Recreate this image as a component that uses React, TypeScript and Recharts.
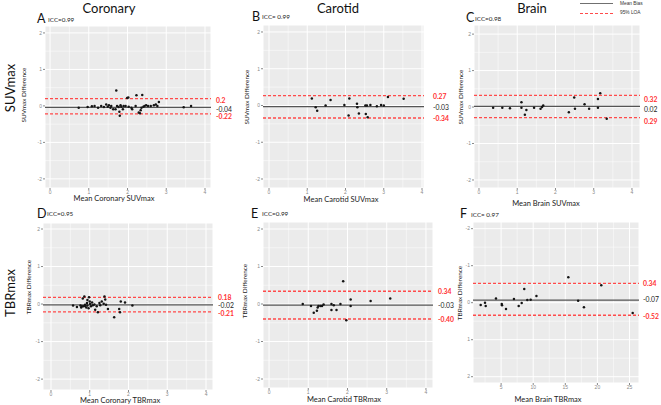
import React from 'react';
import { ScatterChart, Scatter, XAxis, YAxis, CartesianGrid, ReferenceLine } from 'recharts';

// ---------- data ----------
const coronarySuvMean = [0.74,0.97,1.08,1.15,1.24,1.32,1.39,1.45,1.49,1.52,1.56,1.58,1.63,1.69,1.71,1.73,1.77,1.79,1.8,1.82,1.84,1.88,1.9,1.95,1.99,2.02,2.03,2.1,2.12,2.21,2.23,2.29,2.32,2.34,2.36,2.38,2.41,2.44,2.48,2.53,2.6,2.68,2.73,2.77,2.81,3.45,3.64];
const coronarySuvDiff = [-0.05,-0.03,-0.01,0,-0.05,0,-0.03,0.04,-0.02,0.02,-0.05,0,-0.09,-0.09,0.42,0,-0.03,-0.16,-0.27,0.02,-0.02,-0.09,0,0,0.22,0.23,-0.02,-0.05,-0.09,0,0.29,-0.18,-0.2,-0.12,-0.05,0.3,-0.02,0,0.02,0,0,0.02,0.04,0,0.11,-0.04,0];

const carotidSuvMean = [1.12,1.22,1.26,1.48,1.61,1.97,2.08,2.1,2.3,2.31,2.35,2.52,2.53,2.56,2.58,2.65,2.82,2.93,3.0,3.11,3.52];
const carotidSuvDiff = [0.19,-0.05,-0.14,0,0.15,0.01,-0.27,0.19,0.05,-0.05,-0.22,0,-0.23,0,-0.32,0.01,-0.02,0.01,0,0.23,0.18];

const brainSuvMean = [0.37,0.61,0.81,1.11,1.11,1.2,1.24,1.44,1.61,1.65,1.68,2.35,2.49,2.51,2.76,2.88,3.11,3.11,3.17,3.34];
const brainSuvDiff = [-0.02,-0.02,-0.03,0.13,-0.02,-0.21,-0.08,-0.02,-0.05,0,0.04,-0.14,0.26,-0.05,0.08,-0.05,0.22,-0.02,0.38,-0.32];

const coronaryTbrMean = [0.57,0.67,0.76,0.78,0.82,0.84,0.86,0.88,0.91,0.93,0.94,0.97,0.98,1.0,1.01,1.03,1.06,1.08,1.12,1.14,1.18,1.21,1.25,1.27,1.31,1.36,1.38,1.4,1.42,1.47,1.63,1.76,1.78,1.8,1.91,2.1,0.8,0.88,0.94];
const coronaryTbrDiff = [-0.04,-0.08,-0.04,-0.09,0.15,-0.06,0.2,-0.02,-0.09,0.03,-0.04,-0.11,0.18,0.07,0,-0.06,0.04,-0.03,-0.01,-0.15,-0.06,-0.22,0.03,-0.03,0.07,0.01,0.2,0.12,-0.02,-0.13,-0.35,-0.13,-0.22,0.07,0.04,-0.04,-0.06,-0.05,0.11];

const carotidTbrMean = [0.86,1.07,1.14,1.22,1.24,1.26,1.31,1.35,1.39,1.59,1.59,1.65,1.72,1.82,1.89,1.97,2.08,2.08,2.59,3.09];
const carotidTbrDiff = [0,-0.05,-0.23,-0.18,-0.09,-0.05,-0.05,-0.05,-0.01,0,-0.16,-0.03,-0.16,0,0.61,-0.43,-0.05,0.12,0.08,0.15];

const brainTbrMean = [1.82,2.49,2.6,4.2,5.1,5.14,5.76,7.0,7.74,8.2,8.6,9.08,9.6,10.5,15.47,17.0,17.9,20.6,25.5];
const brainTbrDiff = [0.06,0,0.09,-0.11,0.035,0.07,0.17,-0.1,0.09,0.01,-0.37,-0.07,-0.08,-0.18,-0.69,-0.05,0.12,-0.47,0.28];

// bias, upper LOA line, lower LOA line (values) and their printed labels
const biasValues = [-0.04, -0.03, 0.02, -0.02, -0.03, -0.07];
const loaUpperValues = [0.2, 0.27, 0.32, 0.18, 0.34, -0.52];
const loaLowerValues = [-0.22, -0.34, -0.29, -0.21, -0.40, 0.34];
const biasLabels = ['-0.04', '-0.03', '0.02', '-0.02', '-0.03', '-0.07'];
const loaUpperLabels = ['0.2', '0.27', '0.32', '0.18', '0.34', '0.34'];
const loaLowerLabels = ['-0.22', '-0.34', '0.29', '-0.21', '-0.40', '-0.52'];

const panelLetters = ['A', 'B', 'C', 'D', 'E', 'F'];
const iccLabels = ['ICC=0.99', 'ICC= 0.99', 'ICC=0.98', 'ICC=0.95', 'ICC=0.99', 'ICC= 0.97'];
const xTitles = ['Mean Coronary SUVmax', 'Mean Carotid SUVmax', 'Mean Brain SUVmax', 'Mean Coronary TBRmax', 'Mean Carotid TBRmax', 'Mean Brain TBRmax'];
const yTitles = ['SUVmax Difference', 'SUVmax Difference', 'SUVmax Difference', 'TBRmax  Difference', 'TBRmax  Difference', 'TBRmax  Difference'];
const columnTitles = ['Coronary', 'Carotid', 'Brain'];
const rowTitles = ['SUVmax', 'TBRmax'];
const legendLabels = ['Mean  Bias', '95% LOA'];

const yTicks = [-2, -1, 0, 1, 2];
const yMinor = [-1.5, -0.5, 0.5, 1.5];
const xTicksSuv = [0, 1, 2, 3, 4];
const xMinorSuv = [0.5, 1.5, 2.5, 3.5];
const xTicksBrainTbr = [5, 10, 15, 20, 25];
const xMinorBrainTbr = [2.5, 7.5, 12.5, 17.5, 22.5];

// ---------- layout ----------
type Rect = { x: number; y: number; w: number; h: number };
const plots: Rect[] = [
  { x: 45, y: 26, w: 166, h: 162 },
  { x: 263, y: 25, w: 161, h: 163 },
  { x: 474, y: 25, w: 166, h: 163 },
  { x: 43, y: 223, w: 170, h: 167 },
  { x: 263, y: 222, w: 170, h: 166 },
  { x: 473, y: 222, w: 166, h: 161 },
];
const xDomains: [number, number][] = [[-0.13, 4.155], [-0.157, 4.052], [-0.13, 4.21], [-0.206, 4.18], [-0.154, 4.18], [0.62, 26.48]];
const yDomains: [number, number][] = [[-2.25, 2.19], [-2.245, 2.19], [-2.22, 2.25], [-2.29, 2.16], [-2.24, 2.187], [-2.18, 2.17]];
const labelDx = [5, 9, 4, 5, 5, 4];
// label vertical nudges: [upper, bias, lower]
const labelDy = [[1, 1.5, 2.5], [0, 0.5, 0], [3.5, 3, 3], [0, 0.5, 1], [0, 0, 0], [-0.5, -1, 0.5]];

const seriesMeans = [coronarySuvMean, carotidSuvMean, brainSuvMean, coronaryTbrMean, carotidTbrMean, brainTbrMean];
const seriesDiffs = [coronarySuvDiff, carotidSuvDiff, brainSuvDiff, coronaryTbrDiff, carotidTbrDiff, brainTbrDiff];

const YW = 20;
const XH = 12;
const MR = 36;
const RED = '#ff4a4a';
const LABEL_RED = '#ff3030';
const TICK = '#8a8a8a';

const Dot = (p: any) => <circle cx={p.cx} cy={p.cy} r={1.25} fill="#141414" />;

const makeLabel = (text: string, color: string, bold: boolean, dx: number, dy: number) => (p: any) => {
  const vb = p.viewBox || {};
  const x = (vb.x || 0) + (vb.width || 0) + dx;
  const y = (vb.y || 0) + dy;
  return (
    <text x={x} y={y} dominantBaseline="central" textAnchor="start" fontSize={6.8}
      fontFamily="Lato, 'Liberation Sans', sans-serif" fontWeight={bold ? 700 : 400} fill={color}>
      {text}
    </text>
  );
};

function Panel({ i }: { i: number }) {
  const plot = plots[i];
  const data = seriesMeans[i].map((m, k) => ({ x: m, y: seriesDiffs[i][k] }));
  const isF = i === 5;
  return (
    <div style={{ position: 'absolute', left: plot.x - YW, top: plot.y }}>
      <ScatterChart id={`bland-altman-${i}`} width={plot.w + YW + MR} height={plot.h + XH} margin={{ top: 0, right: MR, bottom: 0, left: 0 }}>
        <CartesianGrid fill="#EBEBEB" fillOpacity={1} stroke="#FFFFFF" strokeWidth={0.5}
          horizontalValues={yMinor} verticalValues={isF ? xMinorBrainTbr : xMinorSuv} />
        <CartesianGrid stroke="#FFFFFF" strokeWidth={1} />
        <XAxis type="number" dataKey="x" domain={xDomains[i]} ticks={isF ? xTicksBrainTbr : xTicksSuv}
          allowDataOverflow interval={0} height={XH} tickSize={2} tickMargin={0} axisLine={false}
          tickLine={{ stroke: TICK }} tick={{ fontSize: 5, fill: TICK }} />
        <YAxis type="number" dataKey="y" domain={yDomains[i]} ticks={yTicks} reversed={isF}
          allowDataOverflow interval={0} width={YW} tickSize={2} tickMargin={1} axisLine={false}
          tickLine={{ stroke: TICK }} tick={{ fontSize: 5, fill: TICK }} />
        <ReferenceLine key="up" y={loaUpperValues[i]} stroke={RED} strokeWidth={1.3} strokeDasharray="3 2"
          label={makeLabel(loaUpperLabels[i], LABEL_RED, true, labelDx[i], labelDy[i][0])} />
        <ReferenceLine key="lo" y={loaLowerValues[i]} stroke={RED} strokeWidth={1.3} strokeDasharray="3 2"
          label={makeLabel(loaLowerLabels[i], LABEL_RED, true, labelDx[i], labelDy[i][2])} />
        <ReferenceLine key="bias" y={biasValues[i]} stroke="#555555" strokeWidth={1.3}
          label={makeLabel(biasLabels[i], '#222222', false, labelDx[i], labelDy[i][1])} />
        <Scatter data={data} isAnimationActive={false} shape={Dot} />
      </ScatterChart>
    </div>
  );
}

const abs = (left: number, top: number, extra: React.CSSProperties = {}): React.CSSProperties => ({
  position: 'absolute', left, top, whiteSpace: 'nowrap', lineHeight: 1, ...extra,
});
const centered = (cx: number, cy: number, extra: React.CSSProperties = {}): React.CSSProperties =>
  abs(cx, cy, { transform: 'translate(-50%, -50%)', ...extra });
const rotated = (cx: number, cy: number, extra: React.CSSProperties = {}): React.CSSProperties =>
  abs(cx, cy, { transform: 'translate(-50%, -50%) rotate(-90deg)', ...extra });

const colTitlePos = [[109, 8], [338, 8], [532, 8]];
const rowTitlePos = [[10, 88], [10, 293]];
const yTitlePos = [[24, 95], [247, 97], [461, 97], [29, 287], [245, 291], [460, 293]];
const xTitlePos = [[114, 198.5], [341, 200], [546, 204], [120, 400.5], [344, 400], [548, 400]];
const letterPos = [[37, 19], [252, 17], [466, 18], [37, 214], [251, 214], [460, 214]];
const iccPos = [[48, 20], [262, 17], [475, 19], [47, 214], [262, 214], [471, 215]];

export default function App() {
  const lato = "Lato, 'Open Sans', sans-serif";
  const arial = "'Liberation Sans', Arial, sans-serif";
  return (
    <div style={{ position: 'absolute', left: 0, top: 0, width: 661, height: 405, background: '#ffffff', overflow: 'hidden', fontFamily: arial }}>
      {[0, 1, 2, 3, 4, 5].map((i) => <Panel key={i} i={i} />)}

      {columnTitles.map((t, k) => (
        <div key={t} style={centered(colTitlePos[k][0], colTitlePos[k][1], { fontFamily: lato, fontSize: 13, color: '#111' })}>{t}</div>
      ))}
      {rowTitles.map((t, k) => (
        <div key={t} style={rotated(rowTitlePos[k][0], rowTitlePos[k][1], { fontFamily: lato, fontSize: 13, color: '#111' })}>{t}</div>
      ))}
      {yTitles.map((t, k) => (
        <div key={k} style={rotated(yTitlePos[k][0], yTitlePos[k][1], { fontFamily: lato, fontSize: 6.4, color: '#222' })}>{t}</div>
      ))}
      {xTitles.map((t, k) => (
        <div key={k} style={centered(xTitlePos[k][0], xTitlePos[k][1], { fontFamily: lato, fontSize: 7.5, color: '#222' })}>{t}</div>
      ))}
      {panelLetters.map((t, k) => (
        <div key={t} style={abs(letterPos[k][0], letterPos[k][1], { fontFamily: lato, fontSize: 12.5, color: '#111', transform: 'translateY(-50%)' })}>{t}</div>
      ))}
      {iccLabels.map((t, k) => (
        <div key={k} style={abs(iccPos[k][0], iccPos[k][1], { fontFamily: lato, fontSize: 6.3, color: '#222', transform: 'translateY(-50%)' })}>{t}</div>
      ))}

      {/* legend */}
      <div style={abs(580, 3, { width: 33, borderTop: '1px solid #707070' })} />
      <div style={abs(620, 4, { fontSize: 4.8, color: '#333', transform: 'translateY(-50%)' })}>{legendLabels[0]}</div>
      <div style={abs(580, 12.5, { width: 33, borderTop: '1.3px dashed #ff4a4a' })} />
      <div style={abs(620, 13, { fontSize: 4.8, color: '#333', transform: 'translateY(-50%)' })}>{legendLabels[1]}</div>
    </div>
  );
}
